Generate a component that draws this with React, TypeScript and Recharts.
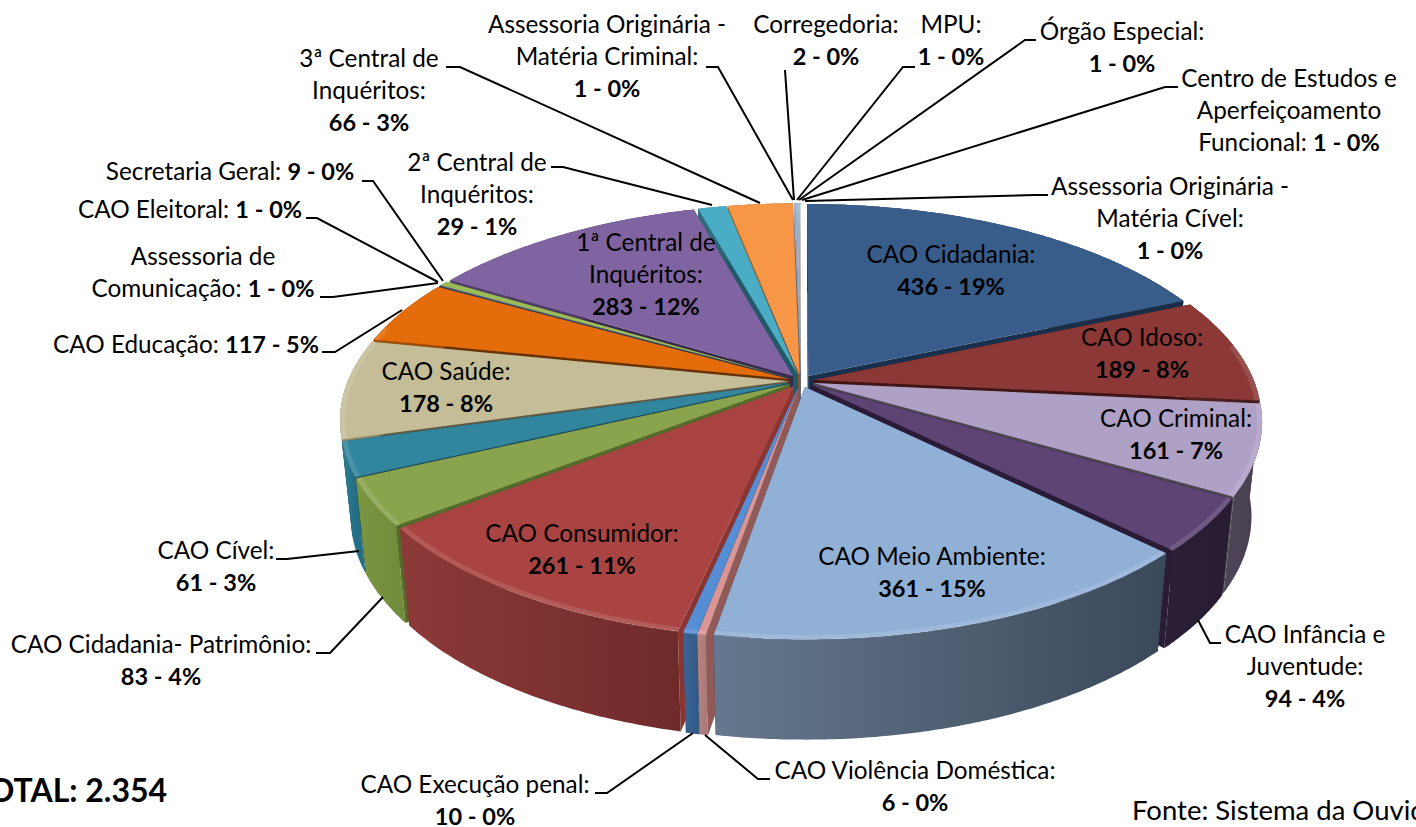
import React from 'react'
import { PieChart, Pie } from 'recharts'

const NAMES = [
  'CAO Cidadania', 'CAO Idoso', 'CAO Criminal', 'CAO Infância e Juventude', 'CAO Meio Ambiente',
  'CAO Violência Doméstica', 'CAO Execução penal', 'CAO Consumidor', 'CAO Cidadania- Patrimônio',
  'CAO Cível', 'CAO Saúde', 'CAO Educação', 'Assessoria de Comunicação', 'CAO Eleitoral',
  'Secretaria Geral', '1ª Central de Inquéritos', '2ª Central de Inquéritos', '3ª Central de Inquéritos',
  'Assessoria Originária - Matéria Criminal', 'Corregedoria', 'MPU', 'Órgão Especial',
  'Centro de Estudos e Aperfeiçoamento Funcional', 'Assessoria Originária - Matéria Cível',
]
const VALUES = [436, 189, 161, 94, 361, 6, 10, 261, 83, 61, 178, 117, 1, 1, 9, 283, 29, 66, 1, 2, 1, 1, 1, 1]

const TOP_COLORS = [
  '#385d8a', '#8c3836', '#afa0c6', '#5d4474', '#91b0d6', '#d99694', '#558ed5', '#a94442', '#8aa44e',
  '#31859c', '#c4bd97', '#e46c0a', '#4a6a94', '#7f6a9a', '#9bbb59', '#8064a2', '#4bacc6', '#f79646',
  '#b7c4d8', '#9db4d0', '#c9bfd6', '#a9c4cf', '#e0b98f', '#d8d8d8',
]
const WALL_LIGHT = [
  '#1f3450', '#4f1f1e', '#4d4456', '#2b1f36', '#66788f', '#b8827f', '#3a6495', '#8c3a38', '#7c9741',
  '#2b7f97', '#8f8a6d', '#a34e08', '#34496a', '#4f3e66', '#6d8340', '#4f3e66', '#2f6f80', '#a96a30',
  '#7f8a99', '#6f7f92', '#857d8f', '#768991', '#9c8163', '#9a9a9a',
]
const WALL_DARK = [
  '#1a2c44', '#451b1a', '#453d4e', '#271c31', '#3a4959', '#ab7a77', '#335a87', '#6e2b2a', '#738c3c',
  '#246f85', '#8a8568', '#994a08', '#2f4262', '#48385e', '#677b3c', '#48385e', '#2a6374', '#9d622c',
  '#76808e', '#677686', '#7c7485', '#6e7f87', '#91785c', '#8e8e8e',
]
const SIDE_COLORS = [
  '#19304d', '#3f1615', '#4b4650', '#2a1b37', '#2a2036', '#8f5a58', '#2f5587', '#8b3533', '#566a2b',
  '#1d4e5d', '#5f5a45', '#6a3205', '#2c3e5a', '#392a4d', '#4f6030', '#392a4d', '#205a69', '#8a5420',
  '#5e6b7b', '#5e6b7b', '#5e6b7b', '#5e6b7b', '#5e6b7b', '#777777',
]

// label text, one row per entry; the value goes on its own bold row unless INLINE_VALUE says otherwise
const LABEL_ROWS = [
  ['CAO Cidadania:'], ['CAO Idoso:'], ['CAO Criminal:'], ['CAO Infância e', 'Juventude:'], ['CAO Meio Ambiente:'],
  ['CAO Violência Doméstica:'], ['CAO Execução penal:'], ['CAO Consumidor:'], ['CAO Cidadania- Patrimônio:'],
  ['CAO Cível:'], ['CAO Saúde:'], ['CAO Educação:'], ['Assessoria de', 'Comunicação:'], ['CAO Eleitoral:'],
  ['Secretaria Geral:'], ['1ª Central de', 'Inquéritos:'], ['2ª Central de', 'Inquéritos:'], ['3ª Central de', 'Inquéritos:'],
  ['Assessoria Originária -', 'Matéria Criminal:'], ['Corregedoria:'], ['MPU:'], ['Órgão Especial:'],
  ['Centro de Estudos e', 'Aperfeiçoamento', 'Funcional:'], ['Assessoria Originária -', 'Matéria Cível:'],
]
const INLINE_VALUE = [11, 12, 13, 14, 22]
const LABEL_X = [951, 1142, 1176, 1305, 932, 915, 475, 582, 161, 216, 446, 186, 203, 190, 230, 646, 477, 369, 607, 826, 951, 1122, 1289, 1170]
const LABEL_Y = [263, 346, 427, 643, 565, 779, 793, 542, 653, 559, 380, 353, 265, 218, 180, 251, 171, 67, 33, 33, 33, 40, 87, 195]
const LEADERS = [
  '', '', '', '1198,620 1210,643 1221,643', '', '705,735 758,779 770,779', '693,733 607,793 595,793', '',
  '383,597 330,653 316,653', '359,551 287,559 276,559', '', '402,310 335,352 322,352', '438,283 333,297 320,297',
  '438,282 317,218 306,218', '443,281 373,181 362,181', '', '712,205 563,167 551,167', '760,203 460,67 446,67',
  '793,200 718,67 706,67', '794,200 785,70', '797,200 903,67 915,67', '799,200 1025,40 1036,40',
  '802,200 1165,87 1178,87', '805,201 1035,195 1048,195',
]

const chartData = NAMES.map((name, idx) => ({ name, value: VALUES[idx], idx }))
const reversedData = [...chartData].reverse()

const FONT = 'Lato, sans-serif'
const FONT_SIZE = 24.3
const BOLD_SIZE = 23.5
const ROW_HEIGHT = 32
const SQUASH = 0.465
const PERSPECTIVE = 0.18
const EXPLODE = 0.03
const DEPTH = 93
const FOOT = 0.977

const pathOf = (pts: number[][]) => 'M' + pts.map((p) => p[0].toFixed(1) + ' ' + p[1].toFixed(1)).join('L') + 'Z'

function geometry(props: any) {
  const { cx, cy, outerRadius, startAngle, endAngle } = props
  const a = 90 - startAngle
  const b = 90 - endAngle
  const a0 = Math.min(a, b)
  const a1 = Math.max(a, b)
  const mid = ((a0 + a1) / 2) * (Math.PI / 180)
  const ex = EXPLODE * Math.sin(mid)
  const ey = -EXPLODE * Math.cos(mid)
  const top = (deg: number, r: number) => {
    const t = (deg * Math.PI) / 180
    const X = r * Math.sin(t) + ex
    const Y = -r * Math.cos(t) + ey
    const f = 1 / (1 - PERSPECTIVE * Y)
    return [cx + outerRadius * X * f, cy + outerRadius * SQUASH * Y * f, f]
  }
  const foot = (p: number[]) => [cx + (p[0] - cx) * FOOT, p[1] + DEPTH * (1 + (p[2] - 1) * 0.35)]
  const rim: number[][] = []
  const n = Math.max(2, Math.ceil((a1 - a0) * 2))
  for (let i = 0; i <= n; i++) rim.push(top(a0 + ((a1 - a0) * i) / n, 1))
  return { apex: top(0, 0), rim, top, foot, a0, a1, mid: (a0 + a1) / 2 }
}

function WallShape(props: any) {
  const idx = props.payload?.idx ?? props.idx
  const { apex, rim, foot, mid } = geometry(props)
  const wantLeft = props.side === 'left'
  if (mid >= 180 !== wantLeft) return <g />
  const first = rim[0]
  const last = rim[rim.length - 1]
  const xs = rim.map((p) => p[0])
  const gradId = `wall-${idx}`
  const wall = [...rim, ...[...rim].reverse().map(foot)]
  return (
    <g>
      <defs>
        <linearGradient id={gradId} gradientUnits="userSpaceOnUse" x1={Math.min(...xs)} y1={0} x2={Math.max(...xs)} y2={0}>
          <stop offset="0%" stopColor={WALL_LIGHT[idx]} />
          <stop offset="100%" stopColor={WALL_DARK[idx]} />
        </linearGradient>
      </defs>
      <path d={pathOf([apex, first, foot(first), foot(apex)])} fill={SIDE_COLORS[idx]} />
      <path d={pathOf([apex, last, foot(last), foot(apex)])} fill={SIDE_COLORS[idx]} />
      <path d={pathOf(wall)} fill={`url(#${gradId})`} />
    </g>
  )
}

function TopShape(props: any) {
  const idx = props.payload?.idx ?? props.idx
  const { apex, rim, top, a0, a1 } = geometry(props)
  const bevel: number[][] = []
  const n = Math.max(2, Math.ceil((a1 - a0) * 2))
  for (let i = 0; i <= n; i++) {
    const deg = a0 + ((a1 - a0) * i) / n
    if (deg > 80 && deg < 285) bevel.push(top(deg, 0.994))
  }
  return (
    <g>
      <path d={pathOf([apex, ...rim])} fill={TOP_COLORS[idx]} />
      {bevel.length > 1 && (
        <polyline
          points={bevel.map((p) => `${p[0].toFixed(1)},${p[1].toFixed(1)}`).join(' ')}
          fill="none"
          stroke="#ffffff"
          strokeOpacity={0.12}
          strokeWidth={5}
        />
      )}
    </g>
  )
}

function SliceLabel(props: any) {
  const idx = props.payload?.idx ?? props.index
  const rows = LABEL_ROWS[idx]
  const valueText = `${VALUES[idx]} - ${Math.round(props.percent * 100)}%`
  const inline = INLINE_VALUE.includes(idx)
  const x = LABEL_X[idx]
  const y = LABEL_Y[idx]
  return (
    <g>
      {LEADERS[idx] && <polyline points={LEADERS[idx]} fill="none" stroke="#000" strokeWidth={2} />}
      <text x={x} y={y} textAnchor="middle" fontFamily={FONT} fontSize={FONT_SIZE} fill="#000">
        {rows.map((row, i) => (
          <tspan key={i} x={x} y={y + i * ROW_HEIGHT}>
            {row}
            {inline && i === rows.length - 1 ? ' ' : ''}
            {inline && i === rows.length - 1 && <tspan fontWeight="bold" fontSize={BOLD_SIZE}>{valueText}</tspan>}
          </tspan>
        ))}
        {!inline && (
          <tspan x={x} y={y + rows.length * ROW_HEIGHT} fontWeight="bold" fontSize={BOLD_SIZE}>
            {valueText}
          </tspan>
        )}
      </text>
    </g>
  )
}

export default function App() {
  const pieProps = { dataKey: 'value', nameKey: 'name', cx: 801, cy: 381, outerRadius: 440, stroke: 'none', isAnimationActive: false }
  return (
    <div style={{ position: 'absolute', left: 0, top: 0, width: 1416, height: 827, overflow: 'hidden', background: '#fff' }}>
      <PieChart width={1416} height={827} margin={{ top: 0, right: 0, bottom: 0, left: 0 }}>
        <Pie {...pieProps} data={reversedData} startAngle={-270} endAngle={90} shape={(p: any) => <WallShape {...p} side="left" />} />
        <Pie {...pieProps} data={chartData} startAngle={90} endAngle={-270} shape={(p: any) => <WallShape {...p} side="right" />} />
        <Pie
          {...pieProps}
          data={chartData}
          startAngle={90}
          endAngle={-270}
          shape={(p: any) => <TopShape {...p} />}
          labelLine={false}
          label={(p: any) => <SliceLabel {...p} />}
        />
        <text x={-30} y={802} fontFamily={FONT} fontSize={32} fontWeight="bold" fill="#000">TOTAL: 2.354</text>
        <text x={1132} y={820} fontFamily={FONT} fontSize={27.5} fill="#000">Fonte: Sistema da Ouvidoria</text>
      </PieChart>
    </div>
  )
}
